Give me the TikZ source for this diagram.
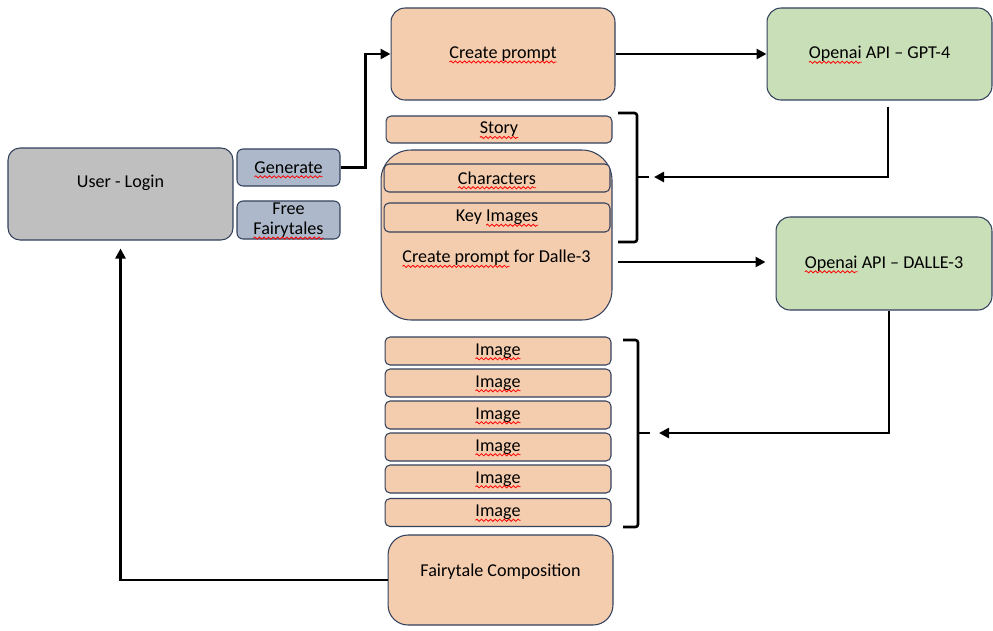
\documentclass[tikz,border=0pt]{standalone}
\usepackage{fontspec}
\setmainfont{Carlito}
\usetikzlibrary{arrows.meta,decorations.pathmorphing}
\definecolor{boxline}{HTML}{33415C}
\definecolor{userg}{HTML}{BFBFBF}
\definecolor{btnblue}{HTML}{ADB9CA}
\definecolor{peach}{HTML}{F4CCAE}
\definecolor{apigreen}{HTML}{C9DFB8}
\newcommand\lbl{\fontsize{10.3}{11.6}\selectfont}
% red wavy spell-check line under a word
\newcommand\spell[1]{\tikz[baseline=(w.base),x=1cm,y=1cm,rounded corners=0pt]{%
  \node [shape=rectangle,inner sep=0pt,outer sep=0pt,minimum width=0pt,minimum height=0pt,
    draw=none,fill=none,align=left] (w) {#1};
  \draw [overlay,red,line width=0.45pt,decorate,decoration={snake,amplitude=0.6pt,segment length=2.6pt}]
    ([yshift=-2pt]w.base west) -- ([yshift=-2pt]w.base east);}}
\begin{document}
\begin{tikzpicture}[x=0.02cm,y=-0.02cm,
    box/.style={draw=boxline,line width=0.6pt,inner sep=0pt,font=\lbl,align=center},
    bigbox/.style={box,rounded corners=0.28cm},
    smallbox/.style={box,rounded corners=0.1cm},
    tale/.style={fill=peach},
    api/.style={fill=apigreen},
    flow/.style={line width=1.5pt,-{Triangle[length=2mm,width=2mm]}},
    brace/.style={line width=1.5pt,rounded corners=1.5pt}]
  \useasboundingbox (0,0) rectangle (993,630);

  % User login and its two buttons
  \node (login) [bigbox,fill=userg,rounded corners=0.24cm,minimum width=4.5cm,minimum height=1.84cm,
    label={[font=\lbl,yshift=0.22cm]center:User - Login}] at (120.5,194) {};
  \node (gen) [smallbox,fill=btnblue,rounded corners=0.12cm,minimum width=2.06cm,minimum height=0.74cm] at (288.5,167.5) {\spell{Generate}};
  \node (free) [smallbox,fill=btnblue,rounded corners=0.12cm,minimum width=2.06cm,minimum height=0.76cm] at (288.5,220) {Free\\\spell{Fairytales}};

  % First prompt and GPT-4
  \node (prompt) [bigbox,tale,minimum width=4.48cm,minimum height=1.84cm] at (503,54) {\spell{Create prompt}};
  \node (gpt) [bigbox,api,minimum width=4.5cm,minimum height=1.84cm] at (879.5,54) {\spell{Openai} API -- GPT-4};

  % Story, characters and key images
  \node (story) [smallbox,tale,minimum width=4.52cm,minimum height=0.54cm] at (499,129.5) {\spell{Story}};
  \node (dalle) [bigbox,tale,rounded corners=0.6cm,minimum width=4.62cm,minimum height=3.4cm,
    label={[font=\lbl,yshift=-0.46cm]center:\spell{Create prompt} for Dalle-3}] at (496.5,235) {};
  \node (chars) [smallbox,tale,minimum width=4.52cm,minimum height=0.56cm] at (497,178) {\spell{Characters}};
  \node (keyimg) [smallbox,tale,minimum width=4.52cm,minimum height=0.58cm] at (497,217.5) {Key \spell{Images}};

  % DALLE-3
  \node (dalleapi) [bigbox,api,minimum width=4.32cm,minimum height=1.86cm] at (884,263.5) {\spell{Openai} API -- DALLE-3};

  % Generated images
  \foreach \i/\y in {1/351,2/383,3/415,4/447,5/479,6/512.5}
    \node (img\i) [smallbox,tale,minimum width=4.52cm,minimum height=0.56cm] at (498,\y) {\spell{Image}};

  % Composition
  \node (comp) [bigbox,tale,rounded corners=0.4cm,minimum width=4.5cm,minimum height=1.8cm,
    label={[font=\lbl,yshift=0.16cm]center:Fairytale Composition}] at (500.5,580) {};

  % Brackets
  \draw [brace] (618,113) -- (637,113) -- (637,242) -- (618,242);
  \draw [brace] (637,177) -- (649,177) coordinate (braceA);
  \draw [brace] (623,340) -- (638,340) -- (638,527) -- (623,527);
  \draw [brace] (638,433) -- (650,433) coordinate (braceB);

  % Connectors
  \draw [flow] (gen.east) -- ++(25,0) |- (prompt.west);
  \draw [flow] (prompt) -- (gpt);
  \draw [flow,shorten >=0.1cm] ([xshift=0.17cm,yshift=-0.12cm]gpt.south) |- (braceA);
  \draw [flow,shorten <=0.1cm,shorten >=0.2cm] ([yshift=-0.54cm]dalle.east) -- ([yshift=-0.54cm]dalle.east -| dalleapi.west);
  \draw [flow,shorten >=0.18cm] ([xshift=0.1cm]dalleapi.south) |- (braceB);
  \draw [flow,shorten >=0.16cm] (comp.west) -| (login.south);
\end{tikzpicture}
\end{document}
